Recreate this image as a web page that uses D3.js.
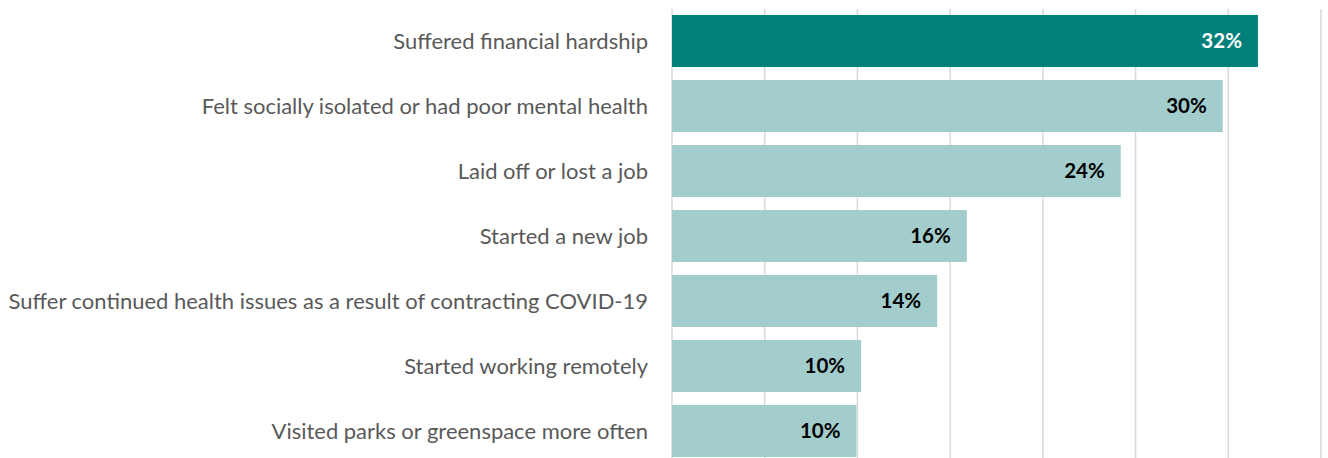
<!DOCTYPE html>
<html>
<head>
<meta charset="utf-8">
<script src="https://cdn.jsdelivr.net/npm/d3@7"></script>
<style>
  body { margin: 0; background: #fff; }
  .chart { width: 1328px; height: 458px; }
</style>
</head>
<body>
<div class="chart"></div>
<script>
var categories = [
    "Suffered financial hardship",
    "Felt socially isolated or had poor mental health",
    "Laid off or lost a job",
    "Started a new job",
    "Suffer continued health issues as a result of contracting COVID-19",
    "Started working remotely",
    "Visited parks or greenspace more often"
];
var values = [31.6, 29.7, 24.2, 15.9, 14.3, 10.2, 9.95];
var valueLabels = ["32%", "30%", "24%", "16%", "14%", "10%", "10%"];
var gridTicks = [0, 5, 10, 15, 20, 25, 30, 35];

function drawChart() {
    var width = 1328,
        height = 458;
    var left = 672, right = 1321, top = 8.5;

    var svg = d3.select(".chart")
        .append("svg")
        .attr("width", width)
        .attr("height", height);

    var x = d3.scaleLinear()
        .domain([0, 35])
        .range([left, right]);

    var y = d3.scaleBand()
        .domain(categories)
        .range([top, top + 65 * categories.length])
        .paddingInner(0.2)
        .paddingOuter(0.1);

    // gridlines
    svg.append("g")
        .attr("class", "grid")
        .selectAll("line")
        .data(gridTicks)
        .enter()
        .append("line")
        .attr("x1", d => x(d))
        .attr("x2", d => x(d))
        .attr("y1", 9)
        .attr("y2", height)
        .attr("stroke", "#d9d9d9")
        .attr("stroke-width", 1.5);

    svg.append("g")
        .attr("class", "bars")
        .selectAll("rect")
        .data(values)
        .enter()
        .append("rect")
        .attr("x", x(0))
        .attr("y", (d, i) => y(categories[i]))
        .attr("width", d => x(d) - x(0))
        .attr("height", y.bandwidth())
        .attr("fill", (d, i) => i == 0 ? "#007f7b" : "#a2cdcc");

    svg.append("g")
        .attr("class", "values")
        .selectAll("text")
        .data(values)
        .enter()
        .append("text")
        .attr("x", d => x(d) - 16)
        .attr("y", (d, i) => y(categories[i]) + y.bandwidth() / 2)
        .attr("dy", "0.35em")
        .attr("text-anchor", "end")
        .attr("font-family", "Lato, 'Open Sans', sans-serif")
        .attr("font-weight", "bold")
        .attr("font-size", 20.5)
        .attr("fill", (d, i) => i == 0 ? "#ffffff" : "#000000")
        .text((d, i) => valueLabels[i]);

    var labels = svg.append("g")
        .attr("class", "labels")
        .selectAll("text")
        .data(categories)
        .enter()
        .append("text")
        .attr("x", 648)
        .attr("y", d => y(d) + y.bandwidth() / 2)
        .attr("dy", "0.35em")
        .attr("text-anchor", "end")
        .attr("font-family", "Lato, 'Open Sans', sans-serif")
        .attr("font-size", 20)
        .attr("fill", "#595959")
        .text(d => d);

    // fit the longest label into the space the reference uses
    var longest = 0;
    labels.each(function () {
        longest = Math.max(longest, this.getComputedTextLength());
    });
    var size = 20 * 640 / longest;
    labels.attr("font-size", size);
}

drawChart();
</script>
</body>
</html>
